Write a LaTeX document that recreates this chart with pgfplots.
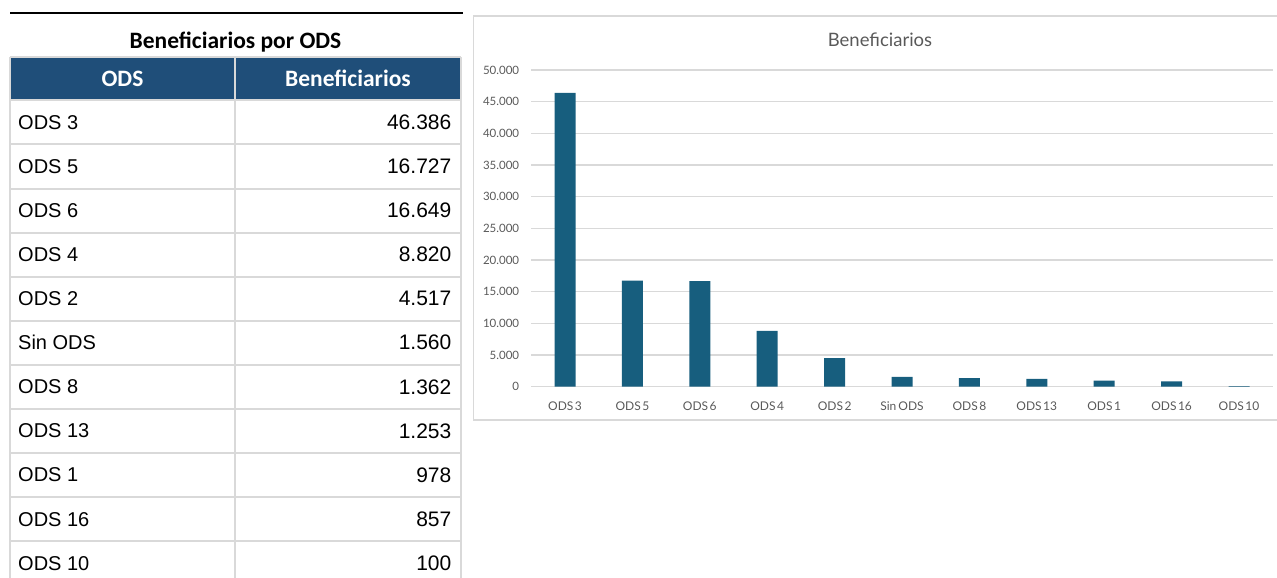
\documentclass[border=0pt]{standalone}
\usepackage{pgfplots}
\pgfplotsset{compat=1.18}
\usepackage{fontspec}
\setmainfont{Liberation Sans}
\newfontfamily\calibri{Carlito}
\newfontfamily\aptos{Lato}
\definecolor{hdr}{HTML}{1F4E79}
\definecolor{barc}{HTML}{175E7E}
\definecolor{gridc}{HTML}{D9D9D9}
\definecolor{txtg}{HTML}{595959}
\begin{document}
\begin{tikzpicture}[x=1pt,y=1pt]
\useasboundingbox (0,0) rectangle (1277,578);
% ---------- table ----------
\draw[line width=2pt,black] (10,565) -- (463,565);
\node[font=\calibri\bfseries\fontsize{23.5}{26}\selectfont] at (235.5,536) {Beneficiarios por ODS};
\fill[hdr] (10,520.7) rectangle (461,478);
\foreach \yy in {433.5,389.4,345.3,301.2,257.1,213,169,125,81,37}
  \draw[gridc,line width=2pt] (10,\yy) -- (461,\yy);
\draw[gridc,line width=2pt] (10,478) -- (461,478);
\draw[gridc,line width=2pt] (10,520.7) -- (461,520.7);
\draw[gridc,line width=2pt] (10,520.7) -- (10,0);
\draw[gridc,line width=2pt] (235,520.7) -- (235,0);
\draw[gridc,line width=2pt] (461,520.7) -- (461,0);
\node[text=white,font=\calibri\bfseries\fontsize{23.5}{26}\selectfont] at (122.5,499.5) {ODS};
\node[text=white,font=\calibri\bfseries\fontsize{23.5}{26}\selectfont] at (348,499.5) {Beneficiarios};
\foreach \yy/\nm/\vv in {455.75/ODS 3/46.386, 411.65/ODS 5/16.727, 367.55/ODS 6/16.649, 323.45/ODS 4/8.820, 279.35/ODS 2/4.517, 235.25/Sin ODS/1.560, 191.15/ODS 8/1.362, 147.05/ODS 13/1.253, 102.95/ODS 1/978, 58.85/ODS 16/857, 14.75/ODS 10/100}{
  \node[anchor=west,inner sep=0pt,font=\fontsize{20}{24}\selectfont] at (18,\yy) {\nm};
  \node[anchor=east,inner sep=0pt,font=\fontsize{21}{24}\selectfont] at (451.5,\yy) {\vv};
}
% ---------- chart frame ----------
\draw[gridc,line width=1.2pt] (1277,562) -- (473.5,562) -- (473.5,158) -- (1277,158);
\node[text=txtg,font=\aptos\fontsize{18.5}{21}\selectfont] at (880,538) {Beneficiarios};
\begin{axis}[
  at={(531.3pt,191.3pt)}, anchor=south west,
  scale only axis, width=741.4pt, height=316.7pt,
  xmin=-0.5, xmax=10.5, ymin=0, ymax=50000,
  scaled y ticks=false,
  ybar, bar width=21pt,
  axis line style={draw=none},
  tick style={draw=none},
  ymajorgrids, major grid style={gridc,line width=1.2pt},
  ytick={0,5000,10000,15000,20000,25000,30000,35000,40000,45000,50000},
  yticklabels={0,5.000,10.000,15.000,20.000,25.000,30.000,35.000,40.000,45.000,50.000},
  xtick={0,1,2,3,4,5,6,7,8,9,10},
  xticklabels={ODS\hspace{1.5pt}3,ODS\hspace{1.5pt}5,ODS\hspace{1.5pt}6,ODS\hspace{1.5pt}4,ODS\hspace{1.5pt}2,Sin\hspace{2pt}ODS,ODS\hspace{1.5pt}8,ODS\hspace{1.5pt}13,ODS\hspace{1.5pt}1,ODS\hspace{1.5pt}16,ODS\hspace{1.5pt}10},
  yticklabel style={text=txtg,font=\aptos\fontsize{11.5}{13}\selectfont,inner sep=0pt,xshift=-12pt},
  xticklabel style={text=txtg,font=\aptos\fontsize{12}{14}\selectfont,inner sep=0pt,yshift=-11pt},
  clip=false,
]
\addplot[fill=barc,draw=none] coordinates {
 (0,46386) (1,16727) (2,16649) (3,8820) (4,4517) (5,1560) (6,1362) (7,1253) (8,978) (9,857) (10,100)};
\end{axis}
\end{tikzpicture}
\end{document}
